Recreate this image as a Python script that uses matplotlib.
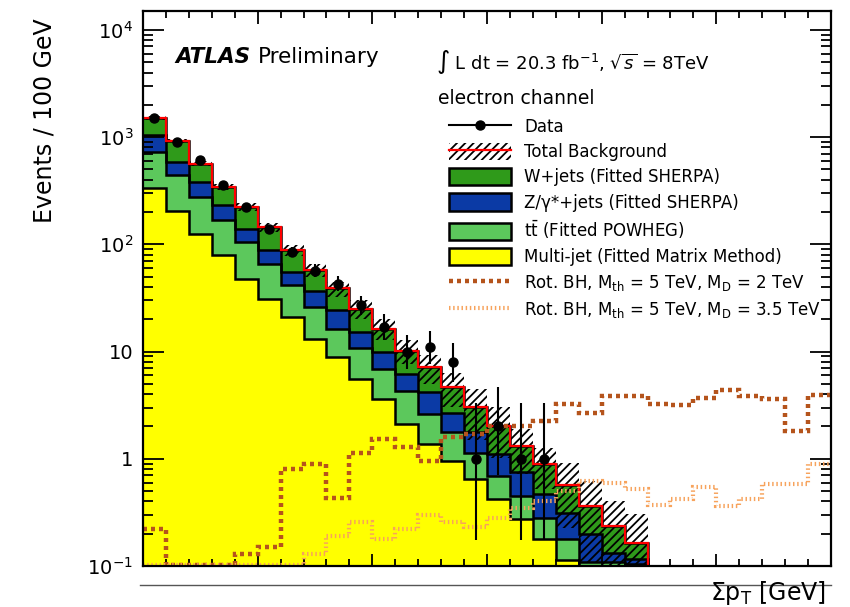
import numpy as np
import matplotlib
matplotlib.use("Agg")
import matplotlib.pyplot as plt
from matplotlib.patches import Patch
from matplotlib.lines import Line2D
from matplotlib.ticker import FixedLocator, FixedFormatter, NullFormatter, MultipleLocator

plt.rcParams['font.family'] = ['DejaVu Sans']
plt.rcParams['mathtext.fontset'] = 'dejavusans'
plt.rcParams['hatch.linewidth'] = 1.3

# ---------------- data (Events / 100 GeV) ----------------
bin_edges = np.arange(1000, 4001, 100)          # Sum pT [GeV], 30 bins

multijet = [334, 206, 126, 79, 48, 31, 21, 13.2, 8.85, 5.6, 3.64, 2.12, 1.38, 0.96,
            0.65, 0.42, 0.275, 0.179, 0.114, 0, 0, 0, 0, 0, 0, 0, 0, 0, 0, 0]
ttbar = [390, 236, 151, 88, 57, 35, 20.5, 12.7, 7.55, 5.1, 3.29, 2.2, 1.25, 0.83,
         0.49, 0.27, 0.175, 0.102, 0.065, 0.11, 0.11, 0.105, 0, 0, 0, 0, 0, 0, 0, 0]
zjets = [320, 146, 105, 64, 35, 22, 13.7, 10.5, 7.8, 4.4, 2.93, 1.9, 1.54, 0.9,
         0.62, 0.42, 0.295, 0.19, 0.136, 0.09, 0.023, 0.011, 0, 0, 0, 0, 0, 0, 0, 0]
wjets = [462, 335, 185, 112, 83, 57, 32.8, 20.7, 14.6, 10.1, 6.54, 4.0, 2.96, 1.95,
         1.25, 0.92, 0.575, 0.426, 0.256, 0.165, 0.104, 0.049, 0, 0, 0, 0, 0, 0, 0, 0]
bkg_rel_unc = [0.04, 0.05, 0.06, 0.07, 0.08, 0.1, 0.12, 0.14, 0.16, 0.2, 0.22, 0.25,
               0.3, 0.35, 0.5, 0.5, 0.45, 0.42, 0.6, 0.7, 0.7, 0.86, 0, 0, 0, 0, 0, 0, 0, 0]

data = [1506, 904, 610, 356, 223, 140, 85, 57, 43, 27, 17, 10, 11, 8, 1, 2, 1, 1,
        0, 0, 0, 0, 0, 0, 0, 0, 0, 0, 0, 0]
data_err_dn = [38.8, 30.1, 24.7, 18.9, 14.9, 11.8, 9.2, 7.53, 6.53, 5.16, 4.08, 3.11,
               3.27, 2.76, 0.827, 1.29, 0.827, 0.827, 0, 0, 0, 0, 0, 0, 0, 0, 0, 0, 0, 0]
data_err_up = [38.8, 30.1, 24.7, 18.9, 14.9, 11.8, 9.2, 8.6, 7.6, 6.26, 5.2, 4.26,
               4.42, 3.94, 2.3, 2.64, 2.3, 2.3, 0, 0, 0, 0, 0, 0, 0, 0, 0, 0, 0, 0]

sig_md2 = [0.22, 0.103, 0.103, 0.103, 0.13, 0.15, 0.81, 0.9, 0.43, 1.14, 1.52, 1.3,
           0.95, 1.6, 1.7, 2.0, 2.0, 2.25, 3.25, 2.7, 3.85, 3.85, 3.25, 3.2, 3.65,
           4.4, 3.85, 3.6, 1.8, 3.95]
sig_md35 = [0.103, 0.103, 0.103, 0.103, 0.103, 0.103, 0.103, 0.13, 0.19, 0.26, 0.18,
            0.22, 0.3, 0.26, 0.23, 0.28, 0.35, 0.4, 0.5, 0.62, 0.6, 0.52, 0.37, 0.42,
            0.55, 0.36, 0.42, 0.58, 0.58, 0.9]

labels = ["Data", "Total Background", "W+jets (Fitted SHERPA)",
          "Z/\u03b3*+jets (Fitted SHERPA)", r"t$\bar{\mathrm{t}}$ (Fitted POWHEG)",
          "Multi-jet (Fitted Matrix Method)",
          r"Rot. BH, M$_{\mathrm{th}}$ = 5 TeV, M$_{\mathrm{D}}$ = 2 TeV",
          r"Rot. BH, M$_{\mathrm{th}}$ = 5 TeV, M$_{\mathrm{D}}$ = 3.5 TeV"]

c_w, c_z, c_tt, c_mj = '#2f9a1a', '#0b3aa5', '#5cc85c', '#ffff00'
c_s1, c_s2 = '#b5541c', '#f7a35c'

# ---------------- figure ----------------
W, H = 850, 607
fig = plt.figure(figsize=(W / 100, H / 100), dpi=100)
ax = fig.add_axes([143 / W, 1 - 566 / H, (831 - 143) / W, (566 - 11) / H])
ax.set_yscale('log')
ax.set_xlim(bin_edges[0], bin_edges[-1])
ax.set_ylim(0.1, 1.5e4)

mj = np.array(multijet, float)
tt = np.array(ttbar, float)
zj = np.array(zjets, float)
wj = np.array(wjets, float)
floor = 1e-3
levels = [(mj + tt + zj + wj, c_w), (mj + tt + zj, c_z), (mj + tt, c_tt), (mj, c_mj)]
for lev, col in levels:
    v = np.where(lev > 0, lev, floor)
    ax.stairs(v, bin_edges, baseline=floor, fill=True, facecolor=col, edgecolor='none', zorder=1)
    ax.stairs(v, bin_edges, baseline=None, color='black', lw=1.8, zorder=1.2)

total = mj + tt + zj + wj
unc = total * np.array(bkg_rel_unc)
hi = np.where(total > 0, total + unc, floor)
lo = np.where(total > 0, np.maximum(total - unc, floor), floor)
ax.stairs(hi, bin_edges, baseline=lo, fill=True, facecolor='none', edgecolor='black',
          hatch='////', lw=0, zorder=1.5)
ax.stairs(np.where(total > 0, total, floor), bin_edges, baseline=None, color='red', lw=1.6, zorder=1.6)

# signals
ax.stairs(sig_md2, bin_edges, baseline=None, color=c_s1, lw=3.2, ls=(0, (0.9, 0.9)), zorder=2)
ax.stairs(sig_md35, bin_edges, baseline=None, color=c_s2, lw=3.0, ls=(0, (0.35, 0.65)), zorder=2)

# data
centers = 0.5 * (bin_edges[1:] + bin_edges[:-1])
d = np.array(data, float)
m = d > 0
ax.errorbar(centers[m], d[m], yerr=[np.array(data_err_dn)[m], np.array(data_err_up)[m]],
            fmt='o', color='black', ms=6.5, lw=1.5, capsize=0, zorder=3)

# ---------------- axes styling ----------------
for s in ax.spines.values():
    s.set_linewidth(1.6)
    s.set_zorder(4)
ax.xaxis.set_major_locator(MultipleLocator(500))
ax.xaxis.set_minor_locator(MultipleLocator(100))
ax.tick_params(axis='x', which='major', direction='in', length=9, width=1.3, top=True, bottom=True,
               labelbottom=False)
ax.tick_params(axis='x', which='minor', direction='in', length=5, width=1.3, top=True, bottom=True)
yt = [0.1, 1, 10, 100, 1000, 10000]
ax.yaxis.set_major_locator(FixedLocator(yt))
ax.yaxis.set_major_formatter(FixedFormatter([r'$10^{-1}$', '1', '10', r'$10^{2}$', r'$10^{3}$', r'$10^{4}$']))
minors = [k * 10.0 ** e for e in range(-1, 5) for k in range(2, 10)]
ax.yaxis.set_minor_locator(FixedLocator(minors))
ax.yaxis.set_minor_formatter(NullFormatter())
ax.tick_params(axis='y', which='major', direction='in', length=15, width=1.3, left=True, right=True,
               labelsize=14, pad=7)
ax.tick_params(axis='y', which='minor', direction='in', length=7.5, width=1.3, left=True, right=True)

fig.text(45 / W, 1 - 18 / H, "Events / 100 GeV", rotation=90, ha='center', va='top', fontsize=17)

# bottom guide line and x label
fig.add_artist(Line2D([140 / W, 831 / W], [1 - 585 / H, 1 - 585 / H], color='#555555', lw=1.0))
fig.text(826 / W, 1 - 600 / H, r"$\Sigma$p$_{\mathrm{T}}$ [GeV]", ha='right', va='baseline',
         fontsize=17)

# annotations
fig.text(175 / W, 1 - 57 / H, "ATLAS", fontsize=15.5, fontweight='bold', fontstyle='italic',
         ha='left', va='center')
fig.text(258 / W, 1 - 57 / H, "Preliminary", fontsize=15.5, ha='left', va='center')
fig.text(436 / W, 1 - 62 / H, r"$\int$ L dt = 20.3 fb$^{-1}$, $\sqrt{s}$ = 8TeV", fontsize=13,
         ha='left', va='center')
fig.text(438 / W, 1 - 98 / H, "electron channel", fontsize=13.5, ha='left', va='center')

# legend
h_data = Line2D([], [], color='black', marker='o', ms=6.5, lw=1.5)
h_tot = (Patch(facecolor='white', edgecolor='black', hatch='////', lw=0),
         Line2D([], [], color='red', lw=1.6))
h_w = Patch(facecolor=c_w, edgecolor='black', lw=1.8)
h_z = Patch(facecolor=c_z, edgecolor='black', lw=1.8)
h_tt = Patch(facecolor=c_tt, edgecolor='black', lw=1.8)
h_mj = Patch(facecolor=c_mj, edgecolor='black', lw=1.8)
h_s1 = Line2D([], [], color=c_s1, lw=3.2, ls=(0, (0.9, 0.9)))
h_s2 = Line2D([], [], color=c_s2, lw=3.0, ls=(0, (0.35, 0.65)))
leg = ax.legend([h_data, h_tot, h_w, h_z, h_tt, h_mj, h_s1, h_s2], labels,
                loc='upper left', bbox_to_anchor=(449 / W, 1 - 118 / H), bbox_transform=fig.transFigure,
                frameon=False, fontsize=12, handlelength=3.75, handleheight=1.2,
                handletextpad=0.75, labelspacing=0.42, borderpad=0, borderaxespad=0)
leg.set_zorder(5)

fig.savefig("out.png", dpi=100)
